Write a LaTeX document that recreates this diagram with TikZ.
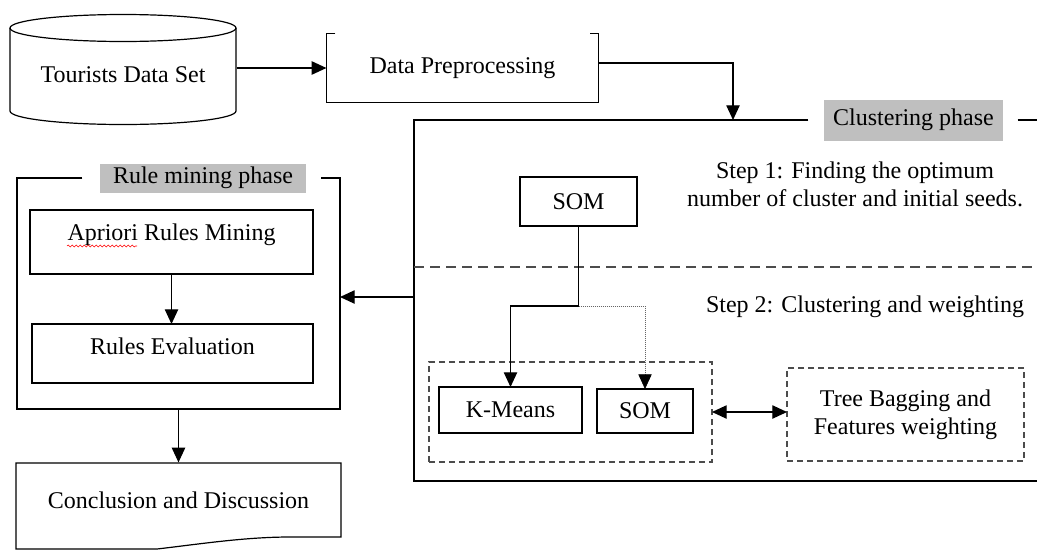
\documentclass[tikz,border=0pt]{standalone}
\usepackage{fontspec}
\setmainfont{Liberation Serif}
\usetikzlibrary{arrows.meta,calc,decorations.pathmorphing}

\begin{document}
\begin{tikzpicture}[x=.75pt,y=-.75pt,font=\fontsize{18}{21}\selectfont,>={Triangle[length=11pt,width=10pt]},line width=.9pt,
 box/.style={draw,inner sep=0pt,outer sep=0pt},
 dbox/.style={draw=black!70,dash pattern=on 4.5pt off 3pt,inner sep=0pt,outer sep=0pt},
 tag/.style={fill=black!25,inner sep=0pt},
 sep/.style={draw=black!70,dash pattern=on 7.5pt off 4.5pt}]
 \useasboundingbox (0,0) rectangle (1037,550);
 % input
 \draw (10,28) -- (10,111) arc[start angle=180,end angle=0,x radius=113,y radius=13.5] -- (236,28);
 \draw (123,28) ellipse[x radius=113,y radius=13.5];
 \node[minimum width=169.5pt,inner sep=0pt,text height=21pt,text depth=0pt] (data) at (123,68) {Tourists Data Set};
 \node[minimum width=203.25pt,minimum height=51pt,inner sep=0pt] (prep) at (462.5,68) {Data Preprocessing};
 \draw ($(prep.north west)+(9,0)$) -- (prep.north west) -- (prep.south west)
   -- (prep.south east) -- (prep.north east) -- ($(prep.north east)+(-9,0)$);
 \draw[->] (data.east) -- (prep.west);
 % clustering phase
 \node[tag,minimum width=134.25pt,minimum height=30.75pt] (ctag) at (913.5,120) {Clustering phase};
 \coordinate (cin) at (733,120);
 \coordinate (cout) at (414,297);
 \draw ($(ctag.west)+(-15,0)$) -- (414,120) -- (414,481) -- (1040,481);
 \draw ($(ctag.east)+(14,0)$) -- (1040,120);
 \draw[->] ($(prep.east)+(0,-5)$) -| (cin);
 \draw[sep] (414,267) -- (1040,267);
 \node[align=center] (step1) at (855,184) {Step 1: Finding the optimum\\number of cluster and initial seeds.};
 \node (step2) at (865,307) {Step 2: Clustering and weighting};
 \node[box,minimum width=87.75pt,minimum height=36.75pt] (som1) at (578.5,201.5) {SOM};
 \node[dbox,minimum width=212.25pt,minimum height=75pt] (algs) at (570.5,412) {};
 \node[box,minimum width=107.25pt,minimum height=34.5pt] (kmeans) at (510.5,410) {K-Means};
 \node[box,minimum width=72pt,minimum height=33pt] (som2) at (645,411) {SOM};
 \node[dbox,minimum width=177.75pt,minimum height=69.75pt,align=center] (tree) at (905.5,414.5)
   {Tree Bagging and\\Features weighting};
 \coordinate (split) at ($(som1.south)+(0,80)$);
 \draw[->] (som1.south) -- (split) -| (kmeans.north);
 \draw[-{Triangle[length=11pt,width=10pt,color=black]},black!60,line width=.5pt,densely dotted] (split) -| (som2.north);
 \draw[<->] (algs.east) -- (algs.east -| tree.west);
 % rule mining phase
 \node[inner sep=0pt,outer sep=0pt,minimum width=242.25pt,minimum height=173.25pt] (rulebox) at (178.5,293.5) {};
 \node[tag,minimum width=154.5pt,minimum height=21.75pt] (rtag) at (203,178) {Rule mining phase};
 \draw ($(rtag.west)+(-17,0)$) -- (rulebox.north west) -- (rulebox.south west)
   -- (rulebox.south east) -- (rulebox.north east) -- ($(rtag.east)+(14,0)$);
 \node[box,minimum width=212.25pt,minimum height=48pt,text depth=14pt] (apriori) at (171.5,242) {Apriori Rules Mining};
 \draw[red,line width=.4pt,decorate,decoration={snake,amplitude=.7pt,segment length=3pt}] (67,246) -- (137,246);
 \node[box,minimum width=210.75pt,minimum height=44.25pt,text depth=11pt] (reval) at (172.5,353.5) {Rules Evaluation};
 \draw[->] (apriori.south) -- (apriori.south |- reval.north);
 \draw[->] (cout) -- (cout -| rulebox.east);
 % output
 \draw (16,463) -- (341,463) -- (341,537) -- (290,537) .. controls (245,537) and (200,544) .. (157,549) -- (16,549) -- cycle;
 \node[minimum width=243.75pt,minimum height=55.5pt,inner sep=0pt] (concl) at (178.5,500) {Conclusion and Discussion};
 \draw[->] (rulebox.south) -- (concl.north);
\end{tikzpicture}
\end{document}
